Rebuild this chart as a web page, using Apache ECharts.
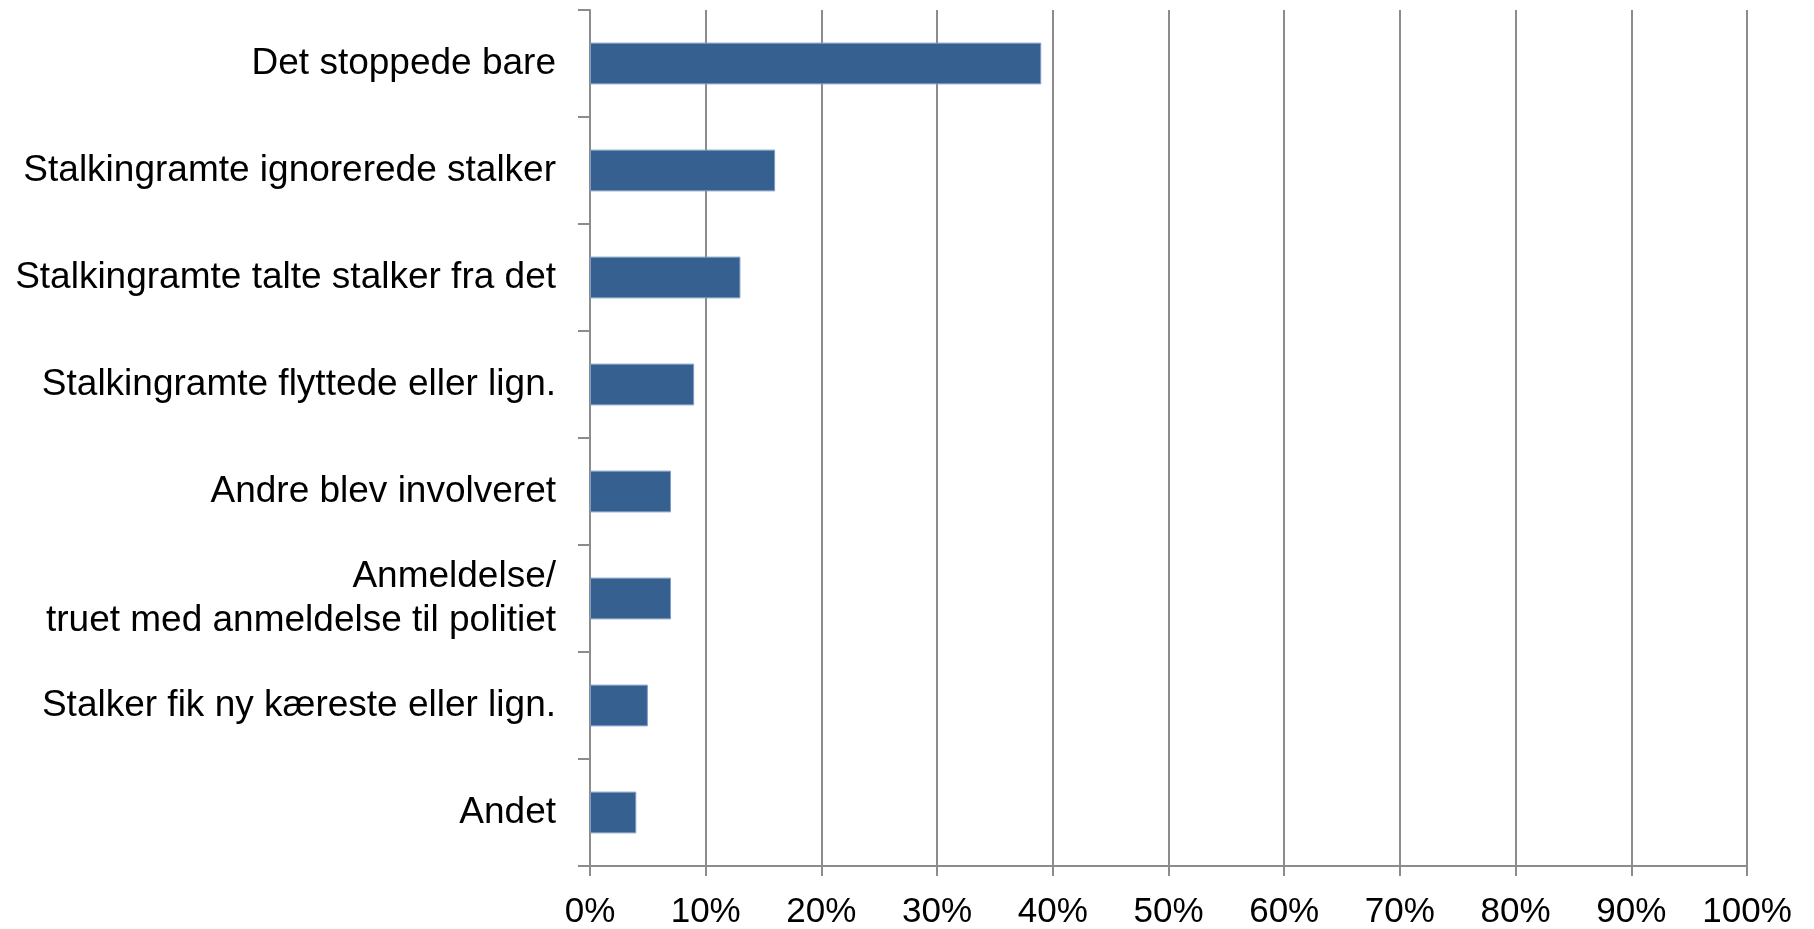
<!DOCTYPE html>
<html lang="da">
<head>
    <meta charset="UTF-8">
    <script type="text/javascript" src="https://cdn.jsdelivr.net/npm/echarts@6/dist/echarts.min.js"></script>
    <style>
        html, body { margin: 0; padding: 0; background: #ffffff; }
        #main { width: 1814px; height: 929px; }
    </style>
</head>
<body>
    <div id="main"></div>
    <script type="text/javascript">
        // kategorier, fra top til bund
        var categories = [
            'Det stoppede bare',
            'Stalkingramte ignorerede stalker',
            'Stalkingramte talte stalker fra det',
            'Stalkingramte flyttede eller lign.',
            'Andre blev involveret',
            'Anmeldelse/\ntruet med anmeldelse til politiet',
            'Stalker fik ny kæreste eller lign.',
            'Andet'
        ];
        // procent
        var values = [39, 16, 13, 9, 7, 7, 5, 4];
        var xTicks = [0, 10, 20, 30, 40, 50, 60, 70, 80, 90, 100];

        var myChart = echarts.init(document.getElementById('main'));
        var gray = '#8c8c8c';
        var option = {
            animation: false,
            grid: {
                left: 590,
                right: 67,
                top: 10,
                bottom: 63,
                containLabel: false,
                outerBoundsMode: 'none'
            },
            xAxis: {
                type: 'value',
                min: xTicks[0],
                max: xTicks[xTicks.length - 1],
                interval: 10,
                axisLine: { show: true, lineStyle: { color: gray, width: 2 } },
                axisTick: { show: true, length: 10, lineStyle: { color: gray, width: 2 } },
                splitLine: { show: true, lineStyle: { color: gray, width: 2 } },
                axisLabel: {
                    margin: 29,
                    color: '#000000',
                    fontFamily: 'Liberation Sans, Arial, sans-serif',
                    fontSize: 35,
                    lineHeight: 35,
                    formatter: '{value}%'
                }
            },
            yAxis: {
                type: 'category',
                inverse: true,
                data: categories,
                boundaryGap: true,
                axisLine: { show: true, lineStyle: { color: gray, width: 2 } },
                axisTick: { show: true, length: 12, inside: false, lineStyle: { color: gray, width: 2 } },
                splitLine: { show: false },
                axisLabel: {
                    margin: 34,
                    color: '#000000',
                    fontFamily: 'Liberation Sans, Arial, sans-serif',
                    fontSize: 37,
                    lineHeight: 44,
                    align: 'right'
                }
            },
            series: [
                {
                    type: 'bar',
                    data: values,
                    barWidth: '39%',
                    itemStyle: {
                        color: '#36608f',
                        borderColor: '#7f9cc4',
                        borderWidth: 1
                    }
                }
            ]
        };
        myChart.setOption(option);
    </script>
</body>
</html>
